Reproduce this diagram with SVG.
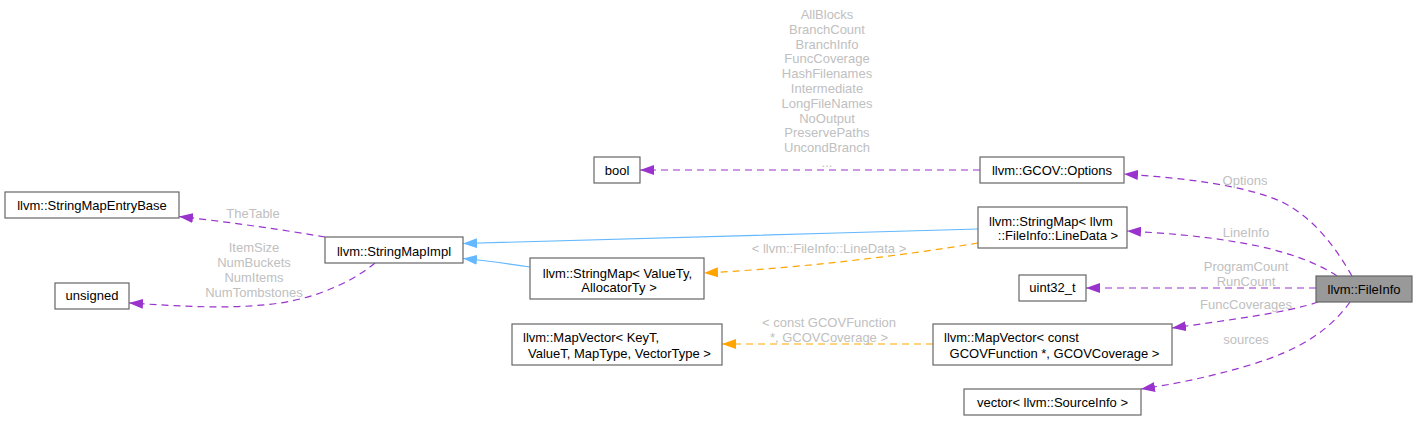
<svg xmlns="http://www.w3.org/2000/svg" width="1418" height="421" viewBox="0 0 1418 421">
<style>
text{font-family:"Liberation Sans",Arial,sans-serif;font-size:13px}
.n rect{fill:#fff;stroke:#666;stroke-width:1.2}
.n text{fill:#000}
.c{text-anchor:middle}
.lbl{fill:#c0c0c0;text-anchor:middle}
.p{fill:none;stroke:#9a32cd;stroke-width:1.2;stroke-dasharray:7,5}
.o{fill:none;stroke:#ffa500;stroke-width:1.2;stroke-dasharray:7,5}
.b{fill:none;stroke:#63b8ff;stroke-width:1.2}
</style>
<defs>
<marker id="ap" viewBox="0 0 14 10" refX="14" refY="5" markerWidth="14" markerHeight="10" markerUnits="userSpaceOnUse" orient="auto"><path d="M0,0 L14,5 L0,10 z" fill="#9a32cd"/></marker>
<marker id="ao" viewBox="0 0 14 10" refX="14" refY="5" markerWidth="14" markerHeight="10" markerUnits="userSpaceOnUse" orient="auto"><path d="M0,0 L14,5 L0,10 z" fill="#ffa500"/></marker>
<marker id="ab" viewBox="0 0 14 10" refX="14" refY="5" markerWidth="14" markerHeight="10" markerUnits="userSpaceOnUse" orient="auto"><path d="M0,0 L14,5 L0,10 z" fill="#63b8ff"/></marker>
</defs>
<rect width="1418" height="421" fill="#fff"/>
<g id="connectors">
<path class="p" marker-end="url(#ap)" d="M1352,276 C1338,252 1316,218 1280,201 C1240,184 1180,178 1124,174"/>
<path class="p" marker-end="url(#ap)" d="M1337,276 C1310,258 1270,247 1230,241 C1200,236 1165,233 1127,231"/>
<path class="p" marker-end="url(#ap)" d="M1316,288 L1086,288"/>
<path class="p" marker-end="url(#ap)" d="M1318,302 C1290,312 1230,320 1172,328"/>
<path class="p" marker-end="url(#ap)" d="M1350,302 C1330,330 1300,350 1250,365 C1210,377 1175,384 1141,389"/>
<path class="p" marker-end="url(#ap)" d="M980,170 L640,170"/>
<path class="b" marker-end="url(#ab)" d="M978,229 C800,234 600,240 463,243.5"/>
<path class="b" marker-end="url(#ab)" d="M530,267 C510,264 490,261 463,258.5"/>
<path class="o" marker-end="url(#ao)" d="M978,243 C900,256 800,268 704,273"/>
<path class="o" marker-end="url(#ao)" d="M933,344 L722,344"/>
<path class="p" marker-end="url(#ap)" d="M325,237 C290,231 230,222 179,216.5"/>
<path class="p" marker-end="url(#ap)" d="M375,263 C355,280 320,297 280,303 C230,310 180,306 129,303"/>
<text class="lbl" x="827" y="19">AllBlocks</text>
<text class="lbl" x="827" y="33.8">BranchCount</text>
<text class="lbl" x="827" y="48.6">BranchInfo</text>
<text class="lbl" x="827" y="63.4">FuncCoverage</text>
<text class="lbl" x="827" y="78.2">HashFilenames</text>
<text class="lbl" x="827" y="93">Intermediate</text>
<text class="lbl" x="827" y="107.8">LongFileNames</text>
<text class="lbl" x="827" y="122.6">NoOutput</text>
<text class="lbl" x="827" y="137.4">PreservePaths</text>
<text class="lbl" x="827" y="152.2">UncondBranch</text>
<text class="lbl" x="827" y="167">...</text>
<text class="lbl" x="253" y="218">TheTable</text>
<text class="lbl" x="254" y="252">ItemSize</text>
<text class="lbl" x="254" y="266.5">NumBuckets</text>
<text class="lbl" x="254" y="281.5">NumItems</text>
<text class="lbl" x="254" y="296.5">NumTombstones</text>
<text class="lbl" x="829" y="253">&lt; llvm::FileInfo::LineData &gt;</text>
<text class="lbl" x="1245" y="185">Options</text>
<text class="lbl" x="1246" y="237">LineInfo</text>
<text class="lbl" x="1246" y="271">ProgramCount</text>
<text class="lbl" x="1246" y="286">RunCount</text>
<text class="lbl" x="1246" y="308.5">FuncCoverages</text>
<text class="lbl" x="1246" y="344">sources</text>
<text class="lbl" x="829" y="327">&lt; const GCOVFunction</text>
<text class="lbl" x="829" y="341.5">*, GCOVCoverage &gt;</text>
</g>
<g id="fileinfo" class="n"><rect x="1316" y="276" width="96" height="26" style="fill:#999"/><text class="c" x="1364" y="293.5">llvm::FileInfo</text></g>
<g id="options" class="n"><rect x="980" y="157" width="144" height="26"/><text class="c" x="1052" y="175">llvm::GCOV::Options</text></g>
<g id="stringmap_linedata" class="n"><rect x="978" y="207" width="149" height="41"/><text x="989" y="225.5">llvm::StringMap&lt; llvm</text><text class="c" x="1058" y="240">::FileInfo::LineData &gt;</text></g>
<g id="uint32" class="n"><rect x="1019" y="275" width="67" height="26"/><text class="c" x="1052.5" y="292">uint32_t</text></g>
<g id="mapvector_gcov" class="n"><rect x="933" y="324" width="239" height="41"/><text x="944" y="342">llvm::MapVector&lt; const</text><text class="c" x="1054.5" y="357.5"> GCOVFunction *, GCOVCoverage &gt;</text></g>
<g id="vector_sourceinfo" class="n"><rect x="964" y="389" width="177" height="26"/><text class="c" x="1052.5" y="407">vector&lt; llvm::SourceInfo &gt;</text></g>
<g id="mapvector_tmpl" class="n"><rect x="512" y="324" width="210" height="41"/><text x="523" y="342">llvm::MapVector&lt; KeyT,</text><text class="c" x="619.5" y="357.5"> ValueT, MapType, VectorType &gt;</text></g>
<g id="stringmap_tmpl" class="n"><rect x="530" y="258" width="174" height="41"/><text class="c" x="617.5" y="277.5">llvm::StringMap&lt; ValueTy,</text><text class="c" x="619" y="292">AllocatorTy &gt;</text></g>
<g id="stringmapimpl" class="n"><rect x="325" y="237" width="138" height="26"/><text class="c" x="394" y="256">llvm::StringMapImpl</text></g>
<g id="entrybase" class="n"><rect x="5" y="192" width="174" height="26"/><text class="c" x="92" y="210">llvm::StringMapEntryBase</text></g>
<g id="unsigned" class="n"><rect x="55" y="283" width="74" height="26"/><text class="c" x="92" y="300">unsigned</text></g>
<g id="bool" class="n"><rect x="594" y="157" width="46" height="26"/><text class="c" x="617" y="175">bool</text></g>
</svg>
